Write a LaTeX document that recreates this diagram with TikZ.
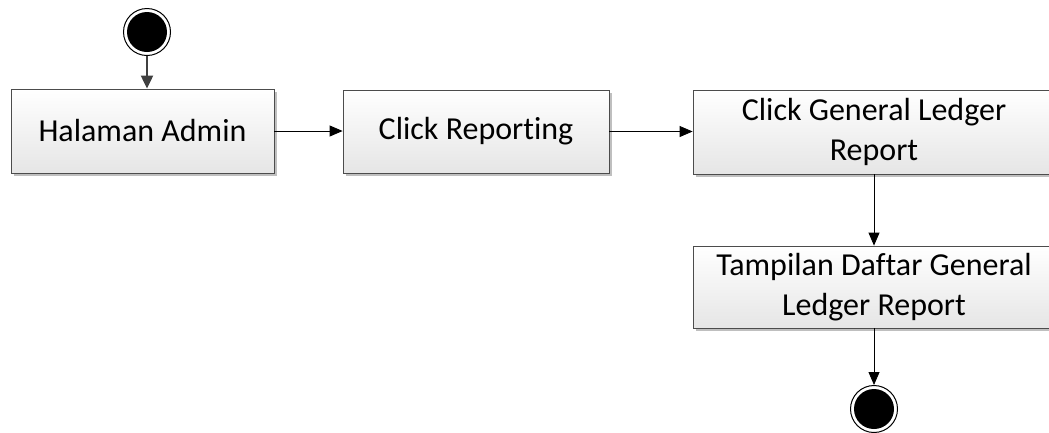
\documentclass[tikz,border=0pt]{standalone}
\usepackage{fontspec}
\setmainfont{Carlito}[Ligatures=NoCommon]
\usetikzlibrary{arrows.meta,shadows}
\begin{document}
\begin{tikzpicture}[x=1pt,y=-1pt,
  act/.style={rectangle, draw=black!70, line width=0.8pt, top color=white, bottom color=black!10,
    drop shadow={shadow xshift=3pt, shadow yshift=-3pt, fill=black!25, opacity=1},
    align=center, font=\fontsize{32}{40}\selectfont, inner sep=2pt},
  ring/.style={circle, draw=black, line width=1pt, fill=white, minimum size=47pt, inner sep=0pt},
  dot/.style={circle, fill=black, minimum size=40pt, inner sep=0pt},
  flow/.style={draw=black, line width=0.8pt, -{Triangle[length=13pt,width=11pt]}}
]
\useasboundingbox (0,0) rectangle (1049,432);
\node[act, minimum width=263pt, minimum height=84pt] (b1) at (142.5,131) {Halaman Admin};
\node[act, minimum width=266pt, minimum height=83pt] (b2) at (476,131.5) {Click Reporting};
\node[act, minimum width=362pt, minimum height=84pt] (b3) at (874,132) {Click General Ledger\\Report};
\node[act, minimum width=362pt, minimum height=82pt] (b4) at (874,287) {Tampilan Daftar General\\Ledger Report};
\node[ring] (s) at (147,32) {};
\node[dot] at (s.center) {};
\node[ring] (e) at (874,409) {};
\node[dot] at (e.center) {};
\draw[flow, draw=black!75, fill=black!75, line width=2pt, -{Triangle[length=13pt,width=12pt]}] (s.south) -- (b1.north -| s);
\draw[flow] (b1.east) -- (b2.west |- b1.east);
\draw[flow] (b2.east) -- (b3.west |- b2.east);
\draw[flow] (b3.south -| e) -- (b4.north -| e);
\draw[flow] (b4.south -| e) -- (e.north);
\end{tikzpicture}
\end{document}
